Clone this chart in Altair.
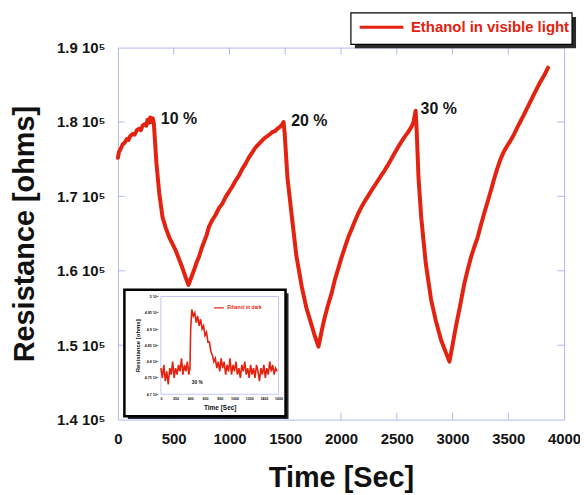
import altair as alt
import pandas as pd

RED = "#e3220f"
LAV = "#b3b7f3"
FONT = "Liberation Sans"

# ---------------- main series (Resistance in 1e5 ohms) ----------------
t_main = [0, 10, 25, 43, 60, 80, 95, 110, 132, 150, 170, 190, 205, 221, 240, 255, 265, 278, 290, 300, 312,
          322, 345, 370, 400, 430, 460, 519, 580, 610, 632,
          655, 680, 705, 727, 750, 770, 795, 816, 845, 875, 905, 935, 965, 995, 1025, 1054, 1085, 1115, 1145,
          1173, 1200, 1230, 1260, 1292, 1320, 1350, 1380, 1411, 1430, 1450, 1470, 1485,
          1495, 1520, 1560, 1600, 1649, 1690, 1720, 1760, 1798,
          1825, 1850, 1880, 1916, 1945, 1975, 2005, 2036, 2065, 2095, 2125, 2154, 2185, 2215, 2245, 2273, 2300,
          2330, 2360, 2392, 2420, 2450, 2480, 2511, 2540, 2570, 2600, 2630, 2650, 2669,
          2678, 2695, 2719, 2760, 2808, 2850, 2897, 2935, 2972,
          3000, 3030, 3070, 3106, 3135, 3165, 3195, 3225, 3255, 3285, 3315, 3344, 3370, 3400, 3430, 3463, 3490,
          3520, 3550, 3582, 3610, 3640, 3670, 3700, 3740, 3780, 3820, 3856]
r_main = [1.752, 1.760, 1.764, 1.770, 1.772, 1.777, 1.776, 1.781, 1.784, 1.783, 1.789, 1.791, 1.789, 1.795, 1.797, 1.795, 1.803, 1.799, 1.806, 1.800, 1.805,
          1.798, 1.745, 1.705, 1.672, 1.657, 1.645, 1.627, 1.603, 1.590, 1.581,
          1.590, 1.600, 1.611, 1.619, 1.630, 1.638, 1.648, 1.659, 1.668, 1.675, 1.684, 1.690, 1.699, 1.706, 1.713, 1.721, 1.728, 1.737, 1.744,
          1.752, 1.758, 1.765, 1.770, 1.775, 1.779, 1.782, 1.786, 1.788, 1.791, 1.793, 1.796, 1.800,
          1.785, 1.725, 1.672, 1.620, 1.578, 1.550, 1.535, 1.515, 1.498,
          1.518, 1.535, 1.552, 1.570, 1.588, 1.603, 1.618, 1.632, 1.645, 1.656, 1.667, 1.677, 1.686, 1.694, 1.701, 1.708, 1.714,
          1.721, 1.728, 1.735, 1.742, 1.750, 1.758, 1.766, 1.773, 1.780, 1.786, 1.793, 1.800, 1.815,
          1.790, 1.725, 1.672, 1.610, 1.561, 1.533, 1.507, 1.492, 1.478,
          1.500, 1.525, 1.555, 1.583, 1.601, 1.618, 1.632, 1.645, 1.662, 1.678, 1.693, 1.708, 1.722, 1.737, 1.750, 1.761, 1.768,
          1.775, 1.783, 1.793, 1.801, 1.810, 1.819, 1.828, 1.840, 1.852, 1.862, 1.873]

x_ticks = [0, 500, 1000, 1500, 2000, 2500, 3000, 3500, 4000]
y_ticks = [1.4, 1.5, 1.6, 1.7, 1.8, 1.9]
inner_x_ticks = [500, 1000, 1500, 2000, 2500, 3000, 3500]
inner_y_ticks = [1.5, 1.6, 1.7, 1.8]

ann_t = [385, 1553, 2713]
ann_r = [1.8039, 1.8016, 1.8173]
ann_label = ["10 %", "20 %", "30 %"]

# ---------------- inset series (Resistance in 1e4 ohms) ----------------
t_inset = [0, 20, 40, 60, 80, 100, 120, 140, 160, 180, 200, 220, 240, 260, 280, 300, 320, 340, 360, 380, 395,
           405, 420, 440, 460, 480, 500, 520, 540, 560, 580, 600, 620, 640, 660, 680, 700, 720, 740, 760, 780,
           800, 820, 840, 860, 880, 900, 920, 940, 960, 980, 1000, 1020, 1040, 1060, 1080, 1100, 1120, 1140,
           1160, 1180, 1200, 1220, 1240, 1260, 1280, 1300, 1320, 1340, 1360, 1380, 1400, 1420, 1440, 1460,
           1480, 1500, 1520, 1540, 1560, 1580]
r_inset = [4.78, 4.75, 4.79, 4.74, 4.77, 4.73, 4.78, 4.76, 4.80, 4.75, 4.78, 4.76, 4.79, 4.77, 4.81, 4.76, 4.79, 4.77, 4.80, 4.76, 4.78,
           4.90, 4.96, 4.94, 4.95, 4.92, 4.94, 4.91, 4.93, 4.90, 4.91, 4.88, 4.89, 4.86, 4.86, 4.83, 4.82, 4.80, 4.81, 4.78, 4.80,
           4.77, 4.81, 4.78, 4.80, 4.76, 4.79, 4.77, 4.81, 4.76, 4.79, 4.77, 4.80, 4.76, 4.78, 4.75, 4.79, 4.77, 4.80,
           4.76, 4.78, 4.75, 4.79, 4.76, 4.78, 4.75, 4.79, 4.77, 4.74, 4.78, 4.76, 4.79, 4.75, 4.78, 4.76,
           4.80, 4.77, 4.79, 4.76, 4.78, 4.77]
inset_x_ticks = [0, 200, 400, 600, 800, 1000, 1200, 1400, 1600]
inset_y_ticks = [4.7, 4.75, 4.8, 4.85, 4.9, 4.95, 5.0]

# ---------------- geometry (pixels) ----------------
W, H = 448.5, 374
TL = 7  # inner tick length
IX0, IX1 = 43.2, 161.5     # inset plot area
IY0, IY1 = 250.2, 348.5
one = pd.DataFrame({"k": [0]})


def xs():
    return alt.Scale(domain=[0, 4000], nice=False, zero=False)


def ys():
    return alt.Scale(domain=[1.4, 1.9], nice=False, zero=False)


def ixs():
    return alt.Scale(domain=[0, 1600], range=[IX0, IX1], nice=False, zero=False)


def iys():
    return alt.Scale(domain=[4.7, 5.0], range=[IY1, IY0], nice=False, zero=False)


main_df = pd.DataFrame({"t": t_main, "r": r_main, "series": ["Ethanol in visible light"] * len(t_main)})

line = alt.Chart(main_df).mark_line(strokeWidth=4, strokeJoin="round", strokeCap="round").encode(
    x=alt.X("t:Q", scale=xs(), axis=alt.Axis(orient="bottom", values=x_ticks, title="Time [Sec]", format="d",
                                             labelFlush=False, labelPadding=12, titlePadding=17)),
    y=alt.Y("r:Q", scale=ys(), axis=alt.Axis(orient="left", values=y_ticks, title="Resistance [ohms]",
                                             labelExpr="format(datum.value, '.1f') + ' 10⁵'",
                                             labelFlush=False, labelPadding=13, titlePadding=17)),
    color=alt.Color("series:N", scale=alt.Scale(range=[RED]),
                    legend=alt.Legend(orient="none", legendX=241.5, legendY=-44, title=None,
                                      symbolType="stroke", symbolSize=1936, symbolStrokeWidth=3,
                                      labelFont=FONT, labelFontSize=15, labelFontWeight="bold",
                                      labelColor=RED, labelOffset=6, padding=0)),
)

bx = pd.DataFrame({"t": inner_x_ticks})
by = pd.DataFrame({"r": inner_y_ticks})
tick_bottom = alt.Chart(bx).mark_rule(color=LAV, strokeWidth=1).encode(
    x=alt.X("t:Q", scale=xs(), axis=None), y=alt.value(H), y2=alt.value(H - TL))
tick_top = alt.Chart(bx).mark_rule(color=LAV, strokeWidth=1).encode(
    x=alt.X("t:Q", scale=xs(), axis=None), y=alt.value(0), y2=alt.value(TL))
tick_left = alt.Chart(by).mark_rule(color=LAV, strokeWidth=1).encode(
    y=alt.Y("r:Q", scale=ys(), axis=None), x=alt.value(0), x2=alt.value(TL))
tick_right = alt.Chart(by).mark_rule(color=LAV, strokeWidth=1).encode(
    y=alt.Y("r:Q", scale=ys(), axis=None), x=alt.value(W), x2=alt.value(W - TL))

ann = alt.Chart(pd.DataFrame({"t": ann_t, "r": ann_r, "label": ann_label})).mark_text(
    align="left", baseline="middle", font=FONT, fontSize=16, fontWeight="bold", color="#141414").encode(
    x=alt.X("t:Q", scale=xs(), axis=None), y=alt.Y("r:Q", scale=ys(), axis=None), text="label:N")

# legend frame with shadow
leg_shadow = alt.Chart(one).mark_rect(color="#2a2a2a").encode(
    x=alt.value(238.2), x2=alt.value(460.5), y=alt.value(-30.8), y2=alt.value(0.8))
leg_box = alt.Chart(one).mark_rect(fill="white", stroke="black", strokeWidth=1.2).encode(
    x=alt.value(234.2), x2=alt.value(456.5), y=alt.value(-34.8), y2=alt.value(-3.2))

# inset frame with shadow
ins_shadow = alt.Chart(one).mark_rect(color="#2a2a2a").encode(
    x=alt.value(10), x2=alt.value(171.5), y=alt.value(247), y2=alt.value(373.5))
ins_box = alt.Chart(one).mark_rect(fill="white", stroke="black", strokeWidth=2.5).encode(
    x=alt.value(6.5), x2=alt.value(168.5), y=alt.value(243.5), y2=alt.value(370.5))
ins_frame = alt.Chart(one).mark_rect(fill=None, stroke=LAV, strokeWidth=0.8).encode(
    x=alt.value(IX0), x2=alt.value(IX1), y=alt.value(IY0), y2=alt.value(IY1))

# ---------------- inset ----------------
ins_line = alt.Chart(pd.DataFrame({"t": t_inset, "r": r_inset})).mark_line(
    color=RED, strokeWidth=1.6).encode(
    x=alt.X("t:Q", scale=ixs(), axis=alt.Axis(orient="bottom", offset=-(H - IY1), values=inset_x_ticks,
                                              title="Time [Sec]", format="d", labelFontSize=3.6, labelPadding=2.5,
                                              labelFlush=False, zindex=2,
                                              titleFontSize=6.5, titlePadding=4)),
    y=alt.Y("r:Q", scale=iys(), axis=alt.Axis(orient="left", offset=-IX0, values=inset_y_ticks,
                                              labelExpr="format(datum.value, '.3~g') + ' 10⁴'",
                                              title="Resistance [ohms]", labelFontSize=3.6, labelPadding=3,
                                              labelFlush=False, zindex=2,
                                              titleFontSize=6, titlePadding=4)),
)

ins_leg_rule = alt.Chart(pd.DataFrame({"t0": [721], "t1": [856], "r": [4.965]})).mark_rule(
    color=RED, strokeWidth=1.2).encode(
    x=alt.X("t0:Q", scale=ixs(), axis=None), x2="t1:Q", y=alt.Y("r:Q", scale=iys(), axis=None))

ins_text_leg = alt.Chart(pd.DataFrame({"t": [901], "r": [4.965], "label": ["Ethanol in dark"]})).mark_text(
    font=FONT, fontSize=4.8, fontWeight="bold", baseline="middle", align="left", color=RED).encode(
    x=alt.X("t:Q", scale=ixs(), axis=None), y=alt.Y("r:Q", scale=iys(), axis=None), text="label:N")
ins_text_30 = alt.Chart(pd.DataFrame({"t": [495], "r": [4.736], "label": ["30 %"]})).mark_text(
    font=FONT, fontSize=4.8, fontWeight="bold", baseline="middle", align="center", color="#141414").encode(
    x=alt.X("t:Q", scale=ixs(), axis=None), y=alt.Y("r:Q", scale=iys(), axis=None), text="label:N")

chart = alt.layer(
    tick_bottom, tick_top, tick_left, tick_right, line, ann,
    leg_shadow, leg_box, ins_shadow, ins_box, ins_frame,
    ins_line, ins_leg_rule, ins_text_leg, ins_text_30,
).resolve_scale(x="independent", y="independent").properties(
    width=W, height=H, background="white",
    autosize=alt.AutoSizeParams(type="none"),
    padding={"left": 110.5, "top": 38.5, "right": 16, "bottom": 75},
).configure_view(stroke=LAV, strokeWidth=1).configure_axis(
    grid=False, domain=False, ticks=False,
    labelFont=FONT, labelFontSize=15, labelFontWeight="bold", labelColor="#141414",
    titleFont=FONT, titleFontSize=29, titleFontWeight="bold", titleColor="#111111",
)

chart.save("out.html", embed_options={"renderer": "svg", "actions": False})
